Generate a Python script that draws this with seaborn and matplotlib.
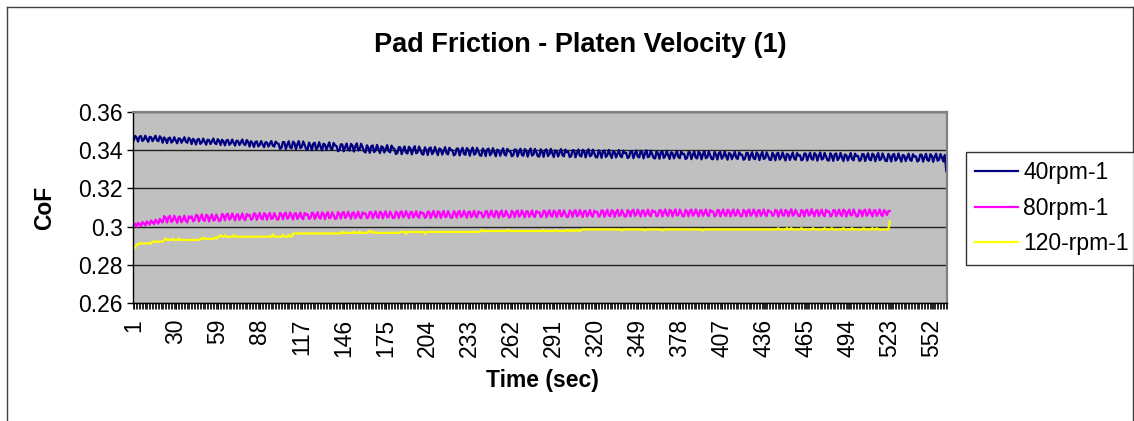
import numpy as np
import pandas as pd
import seaborn as sns
import matplotlib.pyplot as plt
from matplotlib.lines import Line2D

# CoF readings, one per second, in units of 0.0001
cof_40rpm = [
    3452, 3475, 3465, 3445, 3471, 3474, 3448, 3456, 3476, 3458, 3444, 3470, 3468, 3447, 3462, 3476, 3452, 3447, 3473, 3464,
    3439, 3467, 3457, 3437, 3463, 3466, 3440, 3448, 3468, 3450, 3436, 3462, 3460, 3439, 3454, 3468, 3444, 3439, 3465, 3456,
    3432, 3460, 3450, 3430, 3456, 3459, 3433, 3441, 3461, 3443, 3429, 3455, 3453, 3432, 3447, 3461, 3437, 3432, 3458, 3449,
    3427, 3455, 3445, 3425, 3451, 3454, 3428, 3436, 3456, 3438, 3424, 3450, 3448, 3427, 3442, 3456, 3432, 3427, 3453, 3444,
    3419, 3447, 3437, 3417, 3443, 3446, 3420, 3428, 3448, 3430, 3416, 3442, 3440, 3419, 3434, 3448, 3424, 3419, 3445, 3436,
    3434, 3407, 3412, 3443, 3442, 3406, 3429, 3447, 3414, 3410, 3445, 3437, 3405, 3432, 3448, 3411, 3416, 3446, 3428, 3407,
    3402, 3440, 3426, 3400, 3435, 3439, 3404, 3415, 3442, 3418, 3399, 3434, 3430, 3402, 3422, 3441, 3409, 3403, 3438, 3425,
    3422, 3395, 3400, 3431, 3430, 3394, 3417, 3435, 3402, 3398, 3433, 3425, 3393, 3420, 3436, 3399, 3404, 3434, 3416, 3395,
    3388, 3426, 3412, 3386, 3421, 3425, 3390, 3401, 3428, 3404, 3385, 3420, 3416, 3388, 3408, 3427, 3395, 3389, 3424, 3411,
    3407, 3380, 3385, 3416, 3415, 3379, 3402, 3420, 3387, 3383, 3418, 3410, 3378, 3405, 3421, 3384, 3389, 3419, 3401, 3380,
    3377, 3415, 3401, 3375, 3410, 3414, 3379, 3390, 3417, 3393, 3374, 3409, 3405, 3377, 3397, 3416, 3384, 3378, 3413, 3400,
    3400, 3373, 3378, 3409, 3408, 3372, 3395, 3413, 3380, 3376, 3411, 3403, 3371, 3398, 3414, 3377, 3382, 3412, 3394, 3373,
    3371, 3409, 3395, 3369, 3404, 3408, 3373, 3384, 3411, 3387, 3368, 3403, 3399, 3371, 3391, 3410, 3378, 3372, 3407, 3394,
    3395, 3368, 3373, 3404, 3403, 3367, 3390, 3408, 3375, 3371, 3406, 3398, 3366, 3393, 3409, 3372, 3377, 3407, 3389, 3368,
    3367, 3405, 3391, 3365, 3400, 3404, 3369, 3380, 3407, 3383, 3364, 3399, 3395, 3367, 3387, 3406, 3374, 3368, 3403, 3390,
    3391, 3364, 3369, 3400, 3399, 3363, 3386, 3404, 3371, 3367, 3402, 3394, 3362, 3389, 3405, 3368, 3373, 3403, 3385, 3364,
    3362, 3400, 3386, 3360, 3395, 3399, 3364, 3375, 3402, 3378, 3359, 3394, 3390, 3362, 3382, 3401, 3369, 3363, 3398, 3385,
    3386, 3359, 3364, 3395, 3394, 3358, 3381, 3399, 3366, 3362, 3397, 3389, 3357, 3384, 3400, 3363, 3368, 3398, 3380, 3359,
    3357, 3395, 3381, 3355, 3390, 3394, 3359, 3370, 3397, 3373, 3354, 3389, 3385, 3357, 3377, 3396, 3364, 3358, 3393, 3380,
    3381, 3354, 3359, 3390, 3389, 3353, 3376, 3394, 3361, 3357, 3392, 3384, 3352, 3379, 3395, 3358, 3363, 3393, 3375, 3354,
    3353, 3391, 3377, 3351, 3386, 3390, 3355, 3366, 3393, 3369, 3350, 3385, 3381, 3353, 3373, 3392, 3360, 3354, 3389, 3376,
    3377, 3350, 3355, 3386, 3385, 3349, 3372, 3390, 3357, 3353, 3388, 3380, 3348, 3375, 3391, 3354, 3359, 3389, 3371, 3350,
    3349, 3387, 3373, 3347, 3382, 3386, 3351, 3362, 3389, 3365, 3346, 3381, 3377, 3349, 3369, 3388, 3356, 3350, 3385, 3372,
    3374, 3347, 3352, 3383, 3382, 3346, 3369, 3387, 3354, 3350, 3385, 3377, 3345, 3372, 3388, 3351, 3356, 3386, 3368, 3347,
    3346, 3384, 3370, 3344, 3379, 3383, 3348, 3359, 3386, 3362, 3343, 3378, 3374, 3346, 3366, 3385, 3353, 3347, 3382, 3369,
    3371, 3344, 3349, 3380, 3379, 3343, 3366, 3384, 3351, 3347, 3382, 3374, 3342, 3369, 3385, 3348, 3353, 3383, 3365, 3344,
    3343, 3381, 3367, 3341, 3376, 3380, 3345, 3356, 3383, 3359, 3340, 3375, 3371, 3343, 3363, 3382, 3350, 3344, 3379, 3366,
    3368, 3341, 3346, 3377, 3376, 3340, 3363, 3381, 3348, 3344, 3379, 3371, 3339, 3366, 3382, 3345, 3350, 3380, 3362, 3341,
    3375, 3290,
]

cof_80rpm = [
    3005, 3016, 3000, 3020, 3012, 3002, 3024, 3017, 3006, 3027, 3020, 3010, 3032, 3022, 3013, 3036, 3026, 3016, 3040, 3028,
    3022, 3055, 3046, 3021, 3050, 3056, 3024, 3032, 3057, 3038, 3020, 3051, 3053, 3023, 3037, 3057, 3029, 3022, 3054, 3045,
    3054, 3028, 3033, 3061, 3059, 3027, 3047, 3064, 3035, 3030, 3062, 3057, 3027, 3050, 3064, 3032, 3035, 3063, 3048, 3028,
    3034, 3067, 3058, 3033, 3062, 3068, 3036, 3044, 3069, 3050, 3032, 3063, 3065, 3035, 3049, 3069, 3041, 3034, 3066, 3057,
    3062, 3036, 3041, 3069, 3067, 3035, 3055, 3072, 3043, 3038, 3070, 3065, 3035, 3058, 3072, 3040, 3043, 3071, 3056, 3036,
    3039, 3072, 3063, 3038, 3067, 3073, 3041, 3049, 3074, 3055, 3037, 3068, 3070, 3040, 3054, 3074, 3046, 3039, 3071, 3062,
    3066, 3040, 3045, 3073, 3071, 3039, 3059, 3076, 3047, 3042, 3074, 3069, 3039, 3062, 3076, 3044, 3047, 3075, 3060, 3040,
    3043, 3076, 3067, 3042, 3071, 3077, 3045, 3053, 3078, 3059, 3041, 3072, 3074, 3044, 3058, 3078, 3050, 3043, 3075, 3066,
    3070, 3044, 3049, 3077, 3075, 3043, 3063, 3080, 3051, 3046, 3078, 3073, 3043, 3066, 3080, 3048, 3051, 3079, 3064, 3044,
    3046, 3079, 3070, 3045, 3074, 3080, 3048, 3056, 3081, 3062, 3044, 3075, 3077, 3047, 3061, 3081, 3053, 3046, 3078, 3069,
    3072, 3046, 3051, 3079, 3077, 3045, 3065, 3082, 3053, 3048, 3080, 3075, 3045, 3068, 3082, 3050, 3053, 3081, 3066, 3046,
    3048, 3081, 3072, 3047, 3076, 3082, 3050, 3058, 3083, 3064, 3046, 3077, 3079, 3049, 3063, 3083, 3055, 3048, 3080, 3071,
    3074, 3048, 3053, 3081, 3079, 3047, 3067, 3084, 3055, 3050, 3082, 3077, 3047, 3070, 3084, 3052, 3055, 3083, 3068, 3048,
    3050, 3083, 3074, 3049, 3078, 3084, 3052, 3060, 3085, 3066, 3048, 3079, 3081, 3051, 3065, 3085, 3057, 3050, 3082, 3073,
    3076, 3050, 3055, 3083, 3081, 3049, 3069, 3086, 3057, 3052, 3084, 3079, 3049, 3072, 3086, 3054, 3057, 3085, 3070, 3050,
    3052, 3085, 3076, 3051, 3080, 3086, 3054, 3062, 3087, 3068, 3050, 3081, 3083, 3053, 3067, 3087, 3059, 3052, 3084, 3075,
    3078, 3052, 3057, 3085, 3083, 3051, 3071, 3088, 3059, 3054, 3086, 3081, 3051, 3074, 3088, 3056, 3059, 3087, 3072, 3052,
    3054, 3087, 3078, 3053, 3082, 3088, 3056, 3064, 3089, 3070, 3052, 3083, 3085, 3055, 3069, 3089, 3061, 3054, 3086, 3077,
    3080, 3054, 3059, 3087, 3085, 3053, 3073, 3090, 3061, 3056, 3088, 3083, 3053, 3076, 3090, 3058, 3061, 3089, 3074, 3054,
    3055, 3088, 3079, 3054, 3083, 3089, 3057, 3065, 3090, 3071, 3053, 3084, 3086, 3056, 3070, 3090, 3062, 3055, 3087, 3078,
    3080, 3054, 3059, 3087, 3085, 3053, 3073, 3090, 3061, 3056, 3088, 3083, 3053, 3076, 3090, 3058, 3061, 3089, 3074, 3054,
    3055, 3088, 3079, 3054, 3083, 3089, 3057, 3065, 3090, 3071, 3053, 3084, 3086, 3056, 3070, 3090, 3062, 3055, 3087, 3078,
    3078, 3056, 3062, 3088, 3083, 3052, 3075, 3089, 3060, 3057, 3087, 3081, 3054, 3077, 3091, 3057, 3063, 3088, 3072, 3055,
    3056, 3087, 3080, 3053, 3084, 3088, 3058, 3064, 3091, 3070, 3054, 3083, 3087, 3055, 3071, 3089, 3063, 3054, 3088, 3077,
    3081, 3053, 3060, 3086, 3086, 3054, 3071, 3089, 3063, 3055, 3089, 3082, 3052, 3075, 3089, 3059, 3060, 3090, 3073, 3053,
    3055, 3088, 3079, 3054, 3083, 3089, 3057, 3065, 3090, 3071, 3053, 3084, 3086, 3056, 3070, 3090, 3062, 3055, 3087, 3078,
    3060, 3080, 3082,
]

cof_120rpm = [
    2882, 2895, 2903, 2908, 2911, 2912, 2912, 2912, 2912, 2912, 2912, 2912, 2912, 2921, 2921, 2921, 2921, 2921, 2921, 2921,
    2921, 2930, 2938, 2930, 2930, 2930, 2930, 2937, 2930, 2930, 2930, 2938, 2930, 2930, 2930, 2930, 2930, 2930, 2930, 2930,
    2930, 2930, 2930, 2930, 2930, 2930, 2936, 2936, 2942, 2936, 2936, 2936, 2936, 2936, 2936, 2936, 2942, 2936, 2947, 2947,
    2955, 2947, 2947, 2954, 2947, 2947, 2947, 2947, 2947, 2955, 2947, 2947, 2947, 2947, 2947, 2947, 2947, 2947, 2947, 2947,
    2947, 2947, 2947, 2947, 2947, 2947, 2947, 2947, 2947, 2947, 2947, 2947, 2947, 2947, 2947, 2947, 2960, 2947, 2947, 2947,
    2947, 2947, 2947, 2956, 2947, 2947, 2947, 2956, 2947, 2947, 2964, 2964, 2964, 2964, 2964, 2964, 2964, 2964, 2964, 2964,
    2964, 2964, 2964, 2964, 2964, 2964, 2964, 2964, 2964, 2964, 2964, 2964, 2964, 2964, 2964, 2964, 2964, 2964, 2964, 2964,
    2964, 2964, 2964, 2964, 2973, 2967, 2967, 2967, 2967, 2967, 2967, 2967, 2973, 2967, 2967, 2967, 2973, 2967, 2967, 2967,
    2967, 2967, 2972, 2978, 2972, 2968, 2972, 2967, 2967, 2967, 2967, 2967, 2967, 2967, 2967, 2967, 2967, 2967, 2967, 2967,
    2967, 2967, 2967, 2967, 2972, 2972, 2972, 2972, 2962, 2972, 2972, 2972, 2972, 2972, 2972, 2972, 2972, 2972, 2972, 2972,
    2972, 2962, 2972, 2972, 2972, 2972, 2972, 2972, 2972, 2972, 2972, 2972, 2972, 2972, 2972, 2972, 2972, 2972, 2972, 2972,
    2972, 2972, 2972, 2972, 2972, 2972, 2972, 2972, 2972, 2972, 2972, 2972, 2972, 2972, 2972, 2972, 2972, 2972, 2972, 2972,
    2983, 2977, 2977, 2977, 2977, 2977, 2977, 2977, 2977, 2977, 2977, 2977, 2977, 2977, 2977, 2977, 2977, 2977, 2983, 2977,
    2977, 2977, 2977, 2977, 2977, 2977, 2977, 2977, 2977, 2977, 2977, 2977, 2977, 2977, 2977, 2977, 2977, 2977, 2977, 2977,
    2977, 2977, 2977, 2983, 2977, 2977, 2977, 2977, 2977, 2977, 2977, 2983, 2977, 2977, 2977, 2977, 2977, 2977, 2977, 2983,
    2977, 2983, 2977, 2977, 2983, 2977, 2983, 2977, 2977, 2983, 2985, 2985, 2985, 2985, 2985, 2985, 2985, 2985, 2985, 2985,
    2985, 2985, 2985, 2985, 2985, 2985, 2985, 2985, 2985, 2985, 2985, 2985, 2985, 2985, 2985, 2985, 2985, 2979, 2985, 2985,
    2985, 2985, 2985, 2985, 2985, 2985, 2985, 2985, 2985, 2985, 2985, 2985, 2985, 2979, 2985, 2985, 2985, 2985, 2985, 2985,
    2985, 2985, 2985, 2985, 2985, 2979, 2985, 2985, 2985, 2985, 2985, 2985, 2985, 2985, 2985, 2985, 2985, 2985, 2985, 2985,
    2985, 2985, 2985, 2985, 2985, 2985, 2985, 2985, 2985, 2985, 2985, 2985, 2985, 2979, 2985, 2985, 2985, 2985, 2985, 2985,
    2985, 2985, 2985, 2985, 2985, 2985, 2985, 2985, 2985, 2985, 2985, 2985, 2985, 2985, 2985, 2985, 2985, 2985, 2985, 2985,
    2985, 2985, 2985, 2985, 2985, 2985, 2985, 2985, 2985, 2985, 2985, 2985, 2985, 2985, 2985, 2985, 2985, 2985, 2985, 2985,
    2985, 2985, 2985, 2985, 2985, 2992, 2985, 2985, 2985, 2985, 2985, 2992, 2985, 2985, 2992, 2985, 2985, 2985, 2985, 2985,
    2985, 2992, 2985, 2985, 2985, 2985, 2985, 2985, 2985, 2992, 2985, 2985, 2985, 2985, 2985, 2985, 2985, 2992, 2985, 2985,
    2985, 2985, 2992, 2985, 2985, 2985, 2985, 2985, 2985, 2985, 2992, 2985, 2985, 2985, 2985, 2985, 2992, 2985, 2985, 2985,
    2985, 2985, 2985, 2985, 2992, 2985, 2985, 2985, 2985, 2985, 2992, 2985, 2985, 2992, 2985, 2985, 2985, 2985, 2985, 2985,
    2985, 2985, 3027,
]

series_names = ['40rpm-1', '80rpm-1', '120-rpm-1']
series_colors = ['#000080', '#ff00ff', '#ffff00']
y_ticks = [0.26, 0.28, 0.30, 0.32, 0.34, 0.36]
y_tick_labels = ['0.26', '0.28', '0.3', '0.32', '0.34', '0.36']
x_label_step = 29


def create_chart():
    # long-form table for seaborn
    frames = []
    for name, vals in zip(series_names, [cof_40rpm, cof_80rpm, cof_120rpm]):
        frames.append(pd.DataFrame({
            'Time': np.arange(1, len(vals) + 1),
            'CoF': np.array(vals) / 10000.0,
            'Series': name,
        }))
    df = pd.concat(frames, ignore_index=True)
    n_max = len(cof_40rpm)

    plt.rcParams['font.family'] = ['Liberation Sans', 'DejaVu Sans']

    W, H = 1134, 421
    fig = plt.figure(figsize=(W / 100, H / 100), dpi=100)
    ax = fig.add_axes([133 / W, 1 - 303 / H, 814 / W, 191 / H])
    ax.set_facecolor('#c0c0c0')

    sns.lineplot(data=df, x='Time', y='CoF', hue='Series', hue_order=series_names,
                 palette=series_colors, estimator=None, linewidth=1.6, legend=False, ax=ax)

    ax.set_xlim(0.5, n_max + 0.5)
    ax.set_ylim(0.26, 0.36)
    ax.set_yticks(y_ticks)
    ax.set_yticklabels(y_tick_labels, fontsize=16.5)
    x_major = np.arange(1, n_max + 1, x_label_step)
    ax.set_xticks(x_major)
    ax.set_xticklabels([str(v) for v in x_major], rotation=90, fontsize=16.5)
    ax.set_xticks(np.arange(0.5, n_max + 1, 1.0), minor=True)
    ax.tick_params(axis='x', which='both', direction='out', length=4.5, width=0.6, color='black', pad=7)
    ax.tick_params(axis='y', direction='out', length=4.5, width=1, color='black', pad=3)
    ax.set_xlabel('')
    ax.set_ylabel('')

    ax.yaxis.grid(True, color='#222222', linewidth=1.0)
    ax.xaxis.grid(False)
    ax.set_axisbelow(True)
    for side in ['left', 'bottom']:
        ax.spines[side].set_color('black')
        ax.spines[side].set_linewidth(1.0)
    for side in ['top', 'right']:
        ax.spines[side].set_color('#808080')
        ax.spines[side].set_linewidth(1.6)

    # outer chart border
    fig.add_artist(Line2D([7 / W, 7 / W], [0, 1 - 7 / H], color='#404040', lw=1.0))
    fig.add_artist(Line2D([7 / W, 1133 / W], [1 - 7 / H, 1 - 7 / H], color='#404040', lw=1.0))
    fig.add_artist(Line2D([1133 / W, 1133 / W], [0, 1 - 7 / H], color='#404040', lw=1.0))

    fig.text(580 / W, 1 - 45 / H, 'Pad Friction - Platen Velocity (1)', ha='center', va='center',
             fontsize=19.5, fontweight='bold')
    fig.text(45 / W, 1 - 208 / H, 'CoF', ha='center', va='center', rotation=90,
             fontsize=16.5, fontweight='bold')
    fig.text(542 / W, 1 - 381 / H, 'Time (sec)', ha='center', va='center',
             fontsize=16.5, fontweight='bold')

    handles = [Line2D([], [], color=c, lw=1.6) for c in series_colors]
    leg = fig.legend(handles, series_names, loc='upper left', bbox_to_anchor=(966 / W, 1 - 152 / H),
                     bbox_transform=fig.transFigure, fontsize=16.5, frameon=True, fancybox=False,
                     shadow=False, borderaxespad=0, borderpad=0.4, labelspacing=0.55,
                     handlelength=1.85, handletextpad=0.25)
    leg.get_frame().set_edgecolor('black')
    leg.get_frame().set_linewidth(1.0)

    fig.savefig('out.png', dpi=100)


if __name__ == '__main__':
    create_chart()
